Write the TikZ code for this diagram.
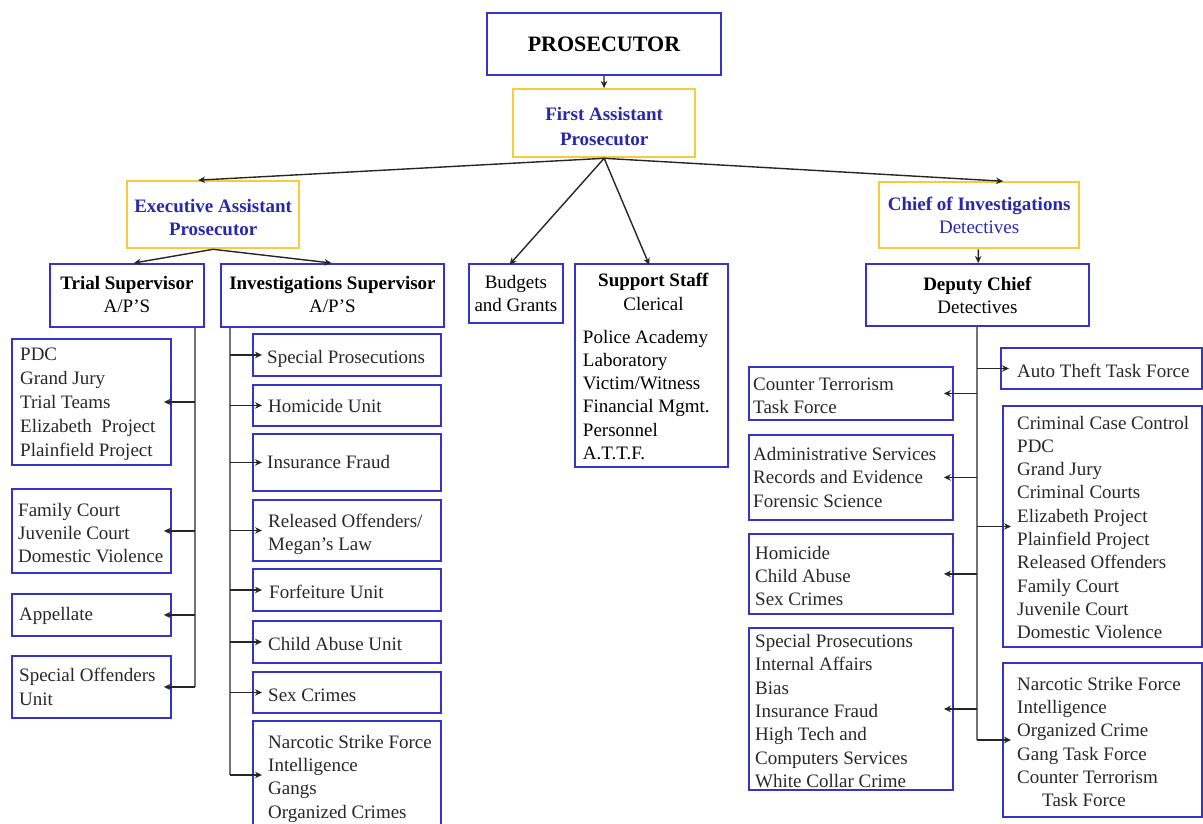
\documentclass[tikz,border=0pt]{standalone}
\usepackage{fontspec}
\setmainfont{Liberation Serif}
\usetikzlibrary{arrows.meta}

\definecolor{boxblue}{RGB}{52,52,200}
\definecolor{boxgold}{RGB}{245,205,60}
\definecolor{headblue}{RGB}{40,40,175}
\definecolor{bodygray}{RGB}{40,40,40}

\tikzset{
  unit/.style={draw=boxblue, line width=1.9pt, fill=white, inner sep=0pt},
  lead/.style={draw=boxgold, line width=2.3pt, fill=white, inner sep=0pt},
  txt/.style={font=\fontsize{19}{23.3}\selectfont, text=bodygray, align=left, inner sep=0pt},
  ctxt/.style={txt, align=center},
  head/.style={font=\fontsize{19}{23}\selectfont, align=center, inner sep=0pt, text=black},
  bluehead/.style={head, text=headblue},
  arr/.style={-{Stealth[length=7pt,width=6.5pt]}, line width=1.4pt, black!85},
  trunk/.style={line width=2pt, black!55},
}

% box with its top-left corner at (#3,#4) and bottom-right corner at (#5,#6)
\newcommand\unitbox[6]{\node[#1, anchor=north west,
  minimum width={#5pt-#3pt}, minimum height={#6pt-#4pt}] (#2) at (#3,#4) {};}

\begin{document}
\begin{tikzpicture}[x=1pt, y=-1pt]
\path[use as bounding box, fill=white] (0,0) rectangle (1203,823);
\clip (0,0) rectangle (1203,823);

% ---- top of the office ----
\unitbox{unit}{prosecutor}{486}{12}{720}{74}
\unitbox{lead}{fap}{512}{88}{694}{156}
\unitbox{lead}{eap}{126}{180}{298}{247}
\unitbox{lead}{chief}{878}{181}{1078}{247}

\node[head, font=\fontsize{22}{26}\selectfont\bfseries] (prosecutor-t) at (prosecutor.center) {PROSECUTOR};
\node[bluehead, font=\fontsize{19}{25}\selectfont\bfseries] (fap-t) at ([yshift=-3pt]fap.center) {First Assistant\\Prosecutor};
\node[bluehead, font=\fontsize{19}{22.5}\selectfont\bfseries] (eap-t) at ([yshift=-3pt]eap.center) {Executive Assistant\\Prosecutor};
\node[bluehead] (chief-t) at (chief.center) {\textbf{Chief of Investigations}\\Detectives};

% ---- second level ----
\unitbox{unit}{trial}{49}{263}{203}{326}
\unitbox{unit}{invs}{220}{263}{443}{326}
\unitbox{unit}{budgets}{468}{263}{562}{322}
\unitbox{unit}{support}{574}{263}{727}{466}
\unitbox{unit}{deputy}{865}{263}{1088}{325}

\node[head] (trial-t) at ([yshift=1pt]trial.center) {\textbf{Trial Supervisor}\\A/P’S};
\node[head] (invs-t) at ([yshift=1pt]invs.center) {\textbf{Investigations Supervisor}\\A/P’S};
\node[ctxt, text=black] (budgets-t) at (budgets.center) {Budgets\\and Grants};
\node[txt, text=black] (support-t) at ([xshift=2pt,yshift=-1pt]support.center)
  {\parbox{141pt}{\fontsize{19}{23.2}\selectfont\centering\textbf{Support Staff}\\Clerical\par
   \vspace{10pt}\raggedright Police Academy\\Laboratory\\Victim/Witness\\Financial Mgmt.\\Personnel\\A.T.T.F.}};
\node[head] (deputy-t) at (deputy.center) {\textbf{Deputy Chief}\\Detectives};

% ---- trial supervisor units ----
\unitbox{unit}{pdc}{11}{338}{170}{464}
\unitbox{unit}{family}{11}{488}{170}{572}
\unitbox{unit}{appellate}{11}{593}{170}{635}
\unitbox{unit}{specoff}{11}{655}{170}{717}

\node[txt, anchor=west, font=\fontsize{19}{24}\selectfont] (pdc-t) at ([xshift=9pt,yshift=-2pt]pdc.west) {PDC\\Grand Jury\\Trial Teams\\Elizabeth\ \ Project\\Plainfield Project};
\node[txt, anchor=west] (family-t) at ([xshift=7pt,yshift=-2pt]family.west) {Family Court\\Juvenile Court\\Domestic Violence};
\node[txt, anchor=west] (appellate-t) at ([xshift=8pt,yshift=-1pt]appellate.west) {Appellate};
\node[txt, anchor=west] (specoff-t) at ([xshift=8pt]specoff.west) {Special Offenders\\Unit};

% ---- investigations supervisor units ----
\unitbox{unit}{isp}{252}{333}{440}{375}
\unitbox{unit}{ihom}{252}{384}{440}{425}
\unitbox{unit}{iins}{252}{433}{440}{490}
\unitbox{unit}{irel}{252}{499}{440}{560}
\unitbox{unit}{iforf}{252}{568}{440}{610}
\unitbox{unit}{ichild}{252}{620}{440}{662}
\unitbox{unit}{isex}{252}{671}{440}{712}
\unitbox{unit}{inarc}{252}{720}{440}{828}

\node[txt, anchor=west] (isp-t) at ([xshift=15pt,yshift=-4pt]isp.west) {Special Prosecutions};
\node[txt, anchor=west] (ihom-t) at ([xshift=16pt,yshift=-1pt]ihom.west) {Homicide Unit};
\node[txt, anchor=west] (iins-t) at ([xshift=15pt]iins.west) {Insurance Fraud};
\node[txt, anchor=west] (irel-t) at ([xshift=16pt,yshift=-4pt]irel.west) {Released Offenders/\\Megan’s Law};
\node[txt, anchor=west] (iforf-t) at ([xshift=17pt,yshift=-2pt]iforf.west) {Forfeiture Unit};
\node[txt, anchor=west] (ichild-t) at ([xshift=16pt,yshift=-2pt]ichild.west) {Child Abuse Unit};
\node[txt, anchor=west] (isex-t) at ([xshift=16pt,yshift=-3pt]isex.west) {Sex Crimes};
\node[txt, anchor=north west] (inarc-t) at ([xshift=16pt,yshift=-15pt]inarc.north west) {Narcotic Strike Force\\Intelligence\\Gangs\\Organized Crimes};

% ---- deputy chief units ----
\unitbox{unit}{auto}{1000}{347}{1201}{388}
\unitbox{unit}{ccc}{1002}{405}{1201}{646}
\unitbox{unit}{rnarc}{1002}{662}{1201}{816}
\unitbox{unit}{counter}{748}{366}{952}{419}
\unitbox{unit}{admin}{748}{434}{952}{519}
\unitbox{unit}{dhom}{748}{533}{952}{613}
\unitbox{unit}{dsp}{748}{627}{952}{789}

\node[txt, anchor=west] (auto-t) at ([xshift=17pt,yshift=-2pt]auto.west) {Auto Theft Task Force};
\node[txt, anchor=west] (ccc-t) at ([xshift=15pt,yshift=-1pt]ccc.west) {Criminal Case Control\\PDC\\Grand Jury\\Criminal Courts\\Elizabeth Project\\Plainfield Project\\Released Offenders\\Family Court\\Juvenile Court\\Domestic Violence};
\node[txt, anchor=west] (rnarc-t) at ([xshift=15pt,yshift=-2pt]rnarc.west) {Narcotic Strike Force\\Intelligence\\Organized Crime\\Gang Task Force\\Counter Terrorism\\\hspace*{25pt}Task Force};
\node[txt, anchor=west] (counter-t) at ([xshift=5pt,yshift=-2pt]counter.west) {Counter Terrorism\\Task Force};
\node[txt, anchor=west] (admin-t) at ([xshift=5pt]admin.west) {Administrative Services\\Records and Evidence\\Forensic Science};
\node[txt, anchor=west] (dhom-t) at ([xshift=7pt,yshift=-2pt]dhom.west) {Homicide\\Child Abuse\\Sex Crimes};
\node[txt, anchor=west] (dsp-t) at ([xshift=7pt,yshift=-2pt]dsp.west) {Special Prosecutions\\Internal Affairs\\Bias\\Insurance Fraud\\High Tech and\\Computers Services\\White Collar Crime};

% ---- reporting lines from the top ----
\draw[arr] (prosecutor) -- (fap);
\draw[arr, shorten >=-3pt] (fap.south) -- ([xshift=-12pt]eap.north);
\draw[arr, shorten >=-4pt] (fap.south) -- ([xshift=20pt]chief.north);
\draw[arr, shorten >=-2pt] (fap.south) -- ([xshift=-5pt]budgets.north);
\draw[arr, shorten >=-2pt] (fap.south) -- ([xshift=-3pt]support.north);
\draw[arr] (eap.south) -- ([xshift=7pt]trial.north);
\draw[arr] (eap.south) -- ([xshift=-1pt]invs.north);
\draw[arr] (chief) -- (deputy);

% ---- trial supervisor trunk ----
\coordinate (ttop) at ([xshift=-10pt]trial.south east);
\draw[trunk] (ttop) -- (ttop |- specoff.east);
\foreach \b in {pdc,family,appellate,specoff}
  \draw[arr] (ttop |- \b.east) -- ([xshift=-8pt]\b.east);

% ---- investigations supervisor trunk ----
\coordinate (itop) at ([xshift=10pt]invs.south west);
\draw[trunk] (itop) -- (itop |- inarc.west);
\foreach \b in {isp,ihom,iins,irel,iforf,ichild,isex,inarc}
  \draw[arr] (itop |- \b.west) -- ([xshift=10pt]\b.west);

% ---- deputy chief trunk ----
\draw[trunk] (deputy.south) -- (deputy.south |- rnarc.west);
\foreach \b in {auto,ccc,rnarc}
  \draw[arr] (deputy.south |- \b.west) -- ([xshift=9pt]\b.west);
\foreach \b in {counter,admin,dhom,dsp}
  \draw[arr] (deputy.south |- \b.east) -- ([xshift=-10pt]\b.east);
\end{tikzpicture}
\end{document}
